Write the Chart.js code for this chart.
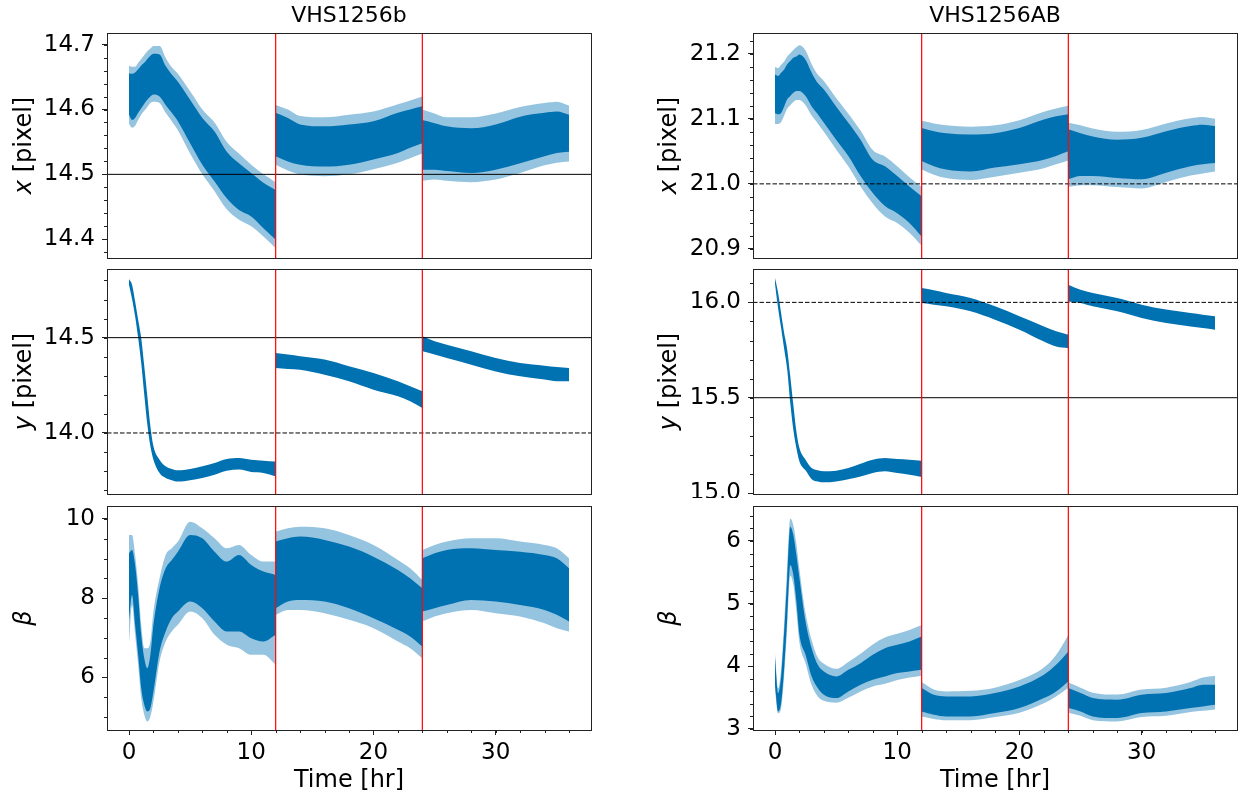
<!DOCTYPE html>
<html>
<head>
<meta charset="utf-8">
<script src="https://cdn.jsdelivr.net/npm/chart.js@4.4.9/dist/chart.umd.min.js"></script>
<style>
  body { margin: 0; background: #fff; }
  #wrap { position: relative; width: 1242px; height: 800px; overflow: hidden; }
  canvas { position: absolute; }
</style>
</head>
<body>
<div id="wrap">
  <canvas id="bx" width="600" height="262" style="left:0;top:0"></canvas>
  <canvas id="by" width="600" height="236" style="left:0;top:262px"></canvas>
  <canvas id="bb" width="600" height="302" style="left:0;top:498px"></canvas>
  <canvas id="ax" width="622" height="262" style="left:620px;top:0"></canvas>
  <canvas id="ay" width="622" height="236" style="left:620px;top:262px"></canvas>
  <canvas id="ab" width="622" height="302" style="left:620px;top:498px"></canvas>
</div>
<script>
// time grids of the three 12 hr visits
const seg1T = [0, 0.25, 0.5, 0.75, 1, 1.25, 1.5, 1.75, 2, 2.5, 3, 3.5, 4, 5, 6, 7, 8, 9, 10, 11, 12];
const seg2T = [12, 13, 14, 16, 18, 20, 22, 23, 24];
const seg3T = [24, 25, 26, 28, 30, 32, 34, 35, 36];
const segTimes = [seg1T, seg2T, seg3T];
const visitBreaks = [12, 24];
const timeTicks = [0, 10, 20, 30];

// VHS1256b  x [pixel]
const bxHi = [
  [14.656, 14.655, 14.657, 14.662, 14.668, 14.672, 14.678, 14.683, 14.686, 14.685, 14.667, 14.654, 14.643, 14.615, 14.587, 14.566, 14.535, 14.517, 14.502, 14.487, 14.476],
  [14.595, 14.587, 14.577, 14.574, 14.577, 14.582, 14.595, 14.600, 14.605],
  [14.584, 14.579, 14.574, 14.571, 14.577, 14.589, 14.595, 14.597, 14.592]
];
const bxLo = [
  [14.592, 14.584, 14.587, 14.595, 14.602, 14.609, 14.615, 14.620, 14.623, 14.620, 14.607, 14.595, 14.582, 14.548, 14.515, 14.489, 14.463, 14.445, 14.435, 14.417, 14.399],
  [14.528, 14.520, 14.515, 14.512, 14.515, 14.523, 14.533, 14.541, 14.548],
  [14.507, 14.507, 14.505, 14.502, 14.507, 14.517, 14.528, 14.533, 14.535]
];
const bxOutHi = [
  [14.668, 14.666, 14.666, 14.672, 14.678, 14.684, 14.690, 14.694, 14.698, 14.698, 14.680, 14.665, 14.655, 14.628, 14.600, 14.580, 14.550, 14.532, 14.515, 14.500, 14.488],
  [14.607, 14.600, 14.590, 14.588, 14.592, 14.597, 14.608, 14.614, 14.620],
  [14.600, 14.594, 14.588, 14.588, 14.594, 14.604, 14.610, 14.612, 14.606]
];
const bxOutLo = [
  [14.578, 14.572, 14.575, 14.584, 14.592, 14.598, 14.604, 14.610, 14.612, 14.610, 14.595, 14.582, 14.568, 14.532, 14.500, 14.474, 14.446, 14.430, 14.420, 14.404, 14.386],
  [14.515, 14.506, 14.500, 14.497, 14.500, 14.508, 14.518, 14.525, 14.532],
  [14.490, 14.492, 14.490, 14.488, 14.492, 14.502, 14.514, 14.518, 14.520]
];
const bxTicks = [14.4, 14.5, 14.6, 14.7];

// VHS1256b  y [pixel]
const byHi = [
  [14.808, 14.778, 14.691, 14.594, 14.498, 14.350, 14.192, 14.035, 13.930, 13.860, 13.825, 13.811, 13.804, 13.811, 13.825, 13.843, 13.864, 13.869, 13.860, 13.855, 13.851],
  [14.420, 14.411, 14.402, 14.385, 14.350, 14.315, 14.271, 14.245, 14.219],
  [14.507, 14.481, 14.463, 14.428, 14.393, 14.367, 14.353, 14.346, 14.341]
];
const byLo = [
  [14.778, 14.703, 14.612, 14.498, 14.367, 14.201, 14.044, 13.930, 13.860, 13.790, 13.764, 13.752, 13.745, 13.752, 13.764, 13.781, 13.802, 13.808, 13.795, 13.790, 13.773],
  [14.341, 14.336, 14.332, 14.306, 14.271, 14.227, 14.192, 14.166, 14.131],
  [14.428, 14.411, 14.393, 14.358, 14.323, 14.297, 14.280, 14.271, 14.271]
];
const byTicks = [14.0, 14.5];

// VHS1256b  beta
const bbHi = [
  [9.134, 9.218, 8.840, 8.084, 7.076, 6.487, 6.235, 6.571, 7.328, 8.252, 8.756, 8.966, 9.176, 9.597, 9.513, 9.176, 8.924, 9.092, 8.840, 8.672, 8.588],
  [9.429, 9.513, 9.555, 9.471, 9.303, 9.050, 8.714, 8.504, 8.252],
  [9.008, 9.134, 9.218, 9.261, 9.218, 9.176, 9.092, 9.008, 8.756]
];
const bbLo = [
  [7.412, 8.084, 7.328, 6.571, 5.731, 5.311, 5.143, 5.227, 5.647, 6.655, 7.160, 7.496, 7.664, 7.916, 7.748, 7.412, 7.160, 7.160, 6.992, 6.908, 7.076],
  [7.748, 7.916, 7.958, 7.916, 7.748, 7.496, 7.202, 7.034, 6.782],
  [7.664, 7.748, 7.832, 7.958, 7.916, 7.832, 7.706, 7.580, 7.412]
];
const bbOutHi = [
  [9.597, 9.597, 9.092, 8.336, 7.328, 6.739, 6.739, 6.908, 7.664, 8.504, 9.092, 9.261, 9.429, 9.933, 9.765, 9.513, 9.261, 9.345, 9.092, 8.924, 8.924],
  [9.681, 9.765, 9.807, 9.765, 9.597, 9.345, 8.966, 8.756, 8.462],
  [9.218, 9.345, 9.429, 9.513, 9.513, 9.429, 9.345, 9.261, 9.008]
];
const bbOutLo = [
  [6.824, 7.832, 7.076, 6.319, 5.479, 5.059, 4.891, 5.017, 5.395, 6.403, 6.908, 7.160, 7.328, 7.664, 7.496, 7.076, 6.824, 6.739, 6.571, 6.571, 6.319],
  [7.580, 7.706, 7.706, 7.622, 7.454, 7.244, 6.908, 6.739, 6.487],
  [7.412, 7.538, 7.622, 7.706, 7.622, 7.538, 7.370, 7.244, 7.160]
];
const bbTicks = [6, 8, 10];

// VHS1256AB  x [pixel]
const axHi = [
  [21.168, 21.166, 21.171, 21.176, 21.184, 21.189, 21.194, 21.196, 21.199, 21.191, 21.171, 21.155, 21.145, 21.119, 21.094, 21.068, 21.037, 21.027, 21.012, 20.996, 20.981],
  [21.086, 21.081, 21.078, 21.076, 21.078, 21.086, 21.099, 21.104, 21.107],
  [21.084, 21.078, 21.073, 21.068, 21.071, 21.081, 21.089, 21.091, 21.089]
];
const axLo = [
  [21.109, 21.107, 21.109, 21.119, 21.130, 21.135, 21.140, 21.143, 21.143, 21.135, 21.119, 21.107, 21.094, 21.068, 21.043, 21.012, 20.986, 20.966, 20.955, 20.940, 20.919],
  [21.035, 21.027, 21.022, 21.019, 21.025, 21.030, 21.037, 21.043, 21.050],
  [21.007, 21.012, 21.012, 21.009, 21.007, 21.017, 21.027, 21.030, 21.032]
];
const axOutHi = [
  [21.180, 21.178, 21.183, 21.188, 21.196, 21.201, 21.206, 21.210, 21.213, 21.205, 21.184, 21.168, 21.158, 21.132, 21.108, 21.082, 21.052, 21.042, 21.027, 21.010, 20.995],
  [21.097, 21.093, 21.090, 21.088, 21.090, 21.098, 21.111, 21.116, 21.120],
  [21.094, 21.090, 21.085, 21.080, 21.083, 21.093, 21.101, 21.103, 21.100]
];
const axOutLo = [
  [21.092, 21.092, 21.095, 21.105, 21.116, 21.121, 21.126, 21.129, 21.129, 21.121, 21.105, 21.093, 21.080, 21.053, 21.027, 20.996, 20.970, 20.950, 20.940, 20.925, 20.905],
  [21.022, 21.014, 21.009, 21.006, 21.011, 21.017, 21.024, 21.030, 21.036],
  [20.995, 20.998, 20.998, 20.995, 20.993, 21.003, 21.013, 21.016, 21.019]
];
const axTicks = [20.9, 21.0, 21.1, 21.2];

// VHS1256AB  y [pixel]
const ayHi = [
  [16.128, 16.052, 15.944, 15.839, 15.752, 15.612, 15.463, 15.323, 15.236, 15.175, 15.131, 15.119, 15.114, 15.117, 15.131, 15.154, 15.175, 15.184, 15.178, 15.175, 15.170],
  [16.075, 16.063, 16.049, 16.023, 15.979, 15.927, 15.874, 15.848, 15.830],
  [16.093, 16.066, 16.049, 16.023, 15.988, 15.962, 15.944, 15.935, 15.927]
];
const ayLo = [
  [16.098, 15.970, 15.865, 15.755, 15.647, 15.472, 15.332, 15.236, 15.166, 15.119, 15.073, 15.061, 15.056, 15.061, 15.073, 15.087, 15.105, 15.114, 15.105, 15.096, 15.084],
  [15.997, 15.988, 15.979, 15.953, 15.909, 15.857, 15.795, 15.769, 15.760],
  [16.005, 15.997, 15.979, 15.953, 15.918, 15.892, 15.874, 15.865, 15.857]
];
const ayTicks = [15.0, 15.5, 16.0];

// VHS1256AB  beta
const abHi = [
  [4.131, 3.573, 3.839, 4.555, 5.405, 6.228, 6.096, 5.777, 5.405, 4.715, 4.290, 4.024, 3.918, 3.839, 3.945, 4.051, 4.184, 4.290, 4.343, 4.396, 4.476],
  [3.653, 3.546, 3.520, 3.520, 3.573, 3.679, 3.865, 4.024, 4.237],
  [3.653, 3.573, 3.493, 3.467, 3.546, 3.573, 3.653, 3.706, 3.706]
];
const abLo = [
  [3.706, 3.281, 3.414, 3.971, 4.768, 5.618, 5.458, 5.033, 4.502, 4.184, 3.839, 3.653, 3.546, 3.493, 3.600, 3.706, 3.785, 3.839, 3.892, 3.918, 3.945],
  [3.281, 3.228, 3.201, 3.201, 3.254, 3.334, 3.493, 3.600, 3.759],
  [3.334, 3.281, 3.201, 3.175, 3.254, 3.281, 3.334, 3.360, 3.387]
];
const abOutHi = [
  [4.20, 3.65, 3.95, 4.70, 5.60, 6.36, 6.25, 5.95, 5.55, 4.85, 4.42, 4.14, 4.04, 3.96, 4.07, 4.20, 4.35, 4.46, 4.52, 4.58, 4.66],
  [3.75, 3.63, 3.60, 3.61, 3.66, 3.78, 3.98, 4.18, 4.50],
  [3.74, 3.66, 3.58, 3.55, 3.63, 3.66, 3.75, 3.82, 3.85]
];
const abOutLo = [
  [3.62, 3.25, 3.33, 3.85, 4.62, 5.45, 5.30, 4.88, 4.38, 4.05, 3.70, 3.52, 3.45, 3.42, 3.50, 3.60, 3.68, 3.72, 3.78, 3.82, 3.85],
  [3.20, 3.16, 3.14, 3.14, 3.19, 3.26, 3.41, 3.52, 3.66],
  [3.26, 3.21, 3.14, 3.12, 3.19, 3.21, 3.27, 3.29, 3.31]
];
const abTicks = [3, 4, 5, 6];

const FONT = 'DejaVu Sans';
const BLUE = 'rgb(0,114,178)';
const FRINGE = 'rgba(0,114,178,0.42)';
const TMIN = -1.8, TMAX = 37.8;

Chart.defaults.font.family = FONT;
Chart.defaults.color = '#000';

const bandSets = (hiSegs, loSegs, color) => {
    const out = [];
    segTimes.forEach((t, s) => {
        out.push({
            data: t.map((x, i) => ({ x, y: hiSegs[s][i] })),
            borderColor: 'rgba(0,0,0,0)', borderWidth: 1, pointRadius: 0,
            cubicInterpolationMode: 'monotone', fill: false
        });
        out.push({
            data: t.map((x, i) => ({ x, y: loSegs[s][i] })),
            borderColor: 'rgba(0,0,0,0)', borderWidth: 1, pointRadius: 0,
            cubicInterpolationMode: 'monotone', fill: '-1', backgroundColor: color
        });
    });
    return out;
};

const refLine = (y, dashed) => ({
    data: [{ x: TMIN, y }, { x: TMAX, y }],
    borderColor: '#000', borderWidth: 1, borderDash: dashed ? [4.5, 2] : [],
    pointRadius: 0, fill: false
});

const visitLine = (t, yMin, yMax) => ({
    data: [{ x: t, y: yMin }, { x: t, y: yMax }],
    borderColor: '#ff0000', borderWidth: 1.2, pointRadius: 0, fill: false
});

// frame, minor ticks and the half-italic y label
const decor = {
    id: 'decor',
    afterDraw(chart, args, o) {
        const { ctx, chartArea: a, scales } = chart;
        ctx.save();
        ctx.strokeStyle = '#222';
        ctx.lineWidth = 1;
        const ys = scales.y;
        for (let k = Math.ceil(ys.min / o.yMinor - 1e-6); k * o.yMinor <= ys.max + 1e-9; k++) {
            const py = Math.round(ys.getPixelForValue(k * o.yMinor)) + 0.5;
            ctx.beginPath(); ctx.moveTo(a.left, py); ctx.lineTo(a.left - 3, py); ctx.stroke();
        }
        if (o.xMinor) {
            const xs = scales.x;
            for (let k = Math.ceil(xs.min / o.xMinor); k * o.xMinor <= xs.max; k++) {
                const px = Math.round(xs.getPixelForValue(k * o.xMinor)) + 0.5;
                ctx.beginPath(); ctx.moveTo(px, a.bottom); ctx.lineTo(px, a.bottom + 3); ctx.stroke();
            }
        }
        ctx.strokeRect(Math.round(a.left) + 0.5, Math.round(a.top) + 0.5,
            Math.round(a.right - a.left), Math.round(a.bottom - a.top));

        ctx.translate(o.labelX, (a.top + a.bottom) / 2);
        ctx.rotate(-Math.PI / 2);
        ctx.fillStyle = '#000';
        ctx.textBaseline = 'middle';
        ctx.textAlign = 'left';
        const f1 = 'italic 24px ' + FONT, f2 = '24px ' + FONT;
        ctx.font = f1; const w1 = ctx.measureText(o.italic).width;
        ctx.font = f2; const w2 = ctx.measureText(o.rest).width;
        const x0 = -(w1 + w2) / 2;
        ctx.font = f1; ctx.fillText(o.italic, x0, 0);
        ctx.font = f2; ctx.fillText(o.rest, x0 + w1, 0);
        ctx.restore();
    }
};

const noEdgePadding = (s) => {
    s.paddingTop = 0; s.paddingBottom = 0; s.paddingLeft = 0; s.paddingRight = 0;
};

const makePanel = (p) => {
    const datasets = [
        ...visitBreaks.map(t => visitLine(t, p.yMin, p.yMax)),
        ...p.refs.map(r => refLine(r[0], r[1])),
        ...bandSets(p.hi, p.lo, BLUE),
        ...(p.outHi ? bandSets(p.outHi, p.outLo, FRINGE) : [])
    ];
    return new Chart(document.getElementById(p.id), {
        type: 'line',
        data: { datasets },
        options: {
            responsive: false,
            maintainAspectRatio: false,
            animation: false,
            events: [],
            layout: { padding: p.pad },
            plugins: {
                legend: { display: false },
                tooltip: { enabled: false },
                title: p.title ? {
                    display: true, text: p.title, fullSize: false,
                    font: { size: 22, weight: 'normal' }, color: '#000',
                    padding: { top: 3, bottom: 3.6 }
                } : { display: false },
                decor: { yMinor: p.yMinor, xMinor: p.bottom ? 2 : 0, labelX: p.labelX, italic: p.italic, rest: p.rest }
            },
            scales: {
                x: {
                    type: 'linear', min: TMIN, max: TMAX,
                    display: !!p.bottom,
                    afterFit: (s) => { s.height = p.bottom ? 70 : 0; noEdgePadding(s); },
                    afterBuildTicks: (s) => { s.ticks = timeTicks.map(v => ({ value: v })); },
                    border: { display: false },
                    grid: { drawOnChartArea: false, drawTicks: true, tickLength: 5, tickColor: '#222' },
                    ticks: { font: { size: 23 }, padding: 4, maxRotation: 0, callback: v => String(v) },
                    title: { display: true, text: 'Time [hr]', font: { size: 24 }, padding: { top: 0, bottom: 5 } }
                },
                y: {
                    type: 'linear', min: p.yMin, max: p.yMax,
                    afterFit: (s) => { s.width = p.yw; noEdgePadding(s); },
                    afterBuildTicks: (s) => { s.ticks = p.ticks.map(v => ({ value: v })); },
                    border: { display: false },
                    grid: { drawOnChartArea: false, drawTicks: true, tickLength: 5, tickColor: '#222' },
                    ticks: { font: { size: 23 }, padding: 7, callback: v => v.toFixed(p.dec) }
                }
            }
        },
        plugins: [decor]
    });
};

const leftPad = { top: { top: 0, right: 9, bottom: 4, left: 0 }, mid: { top: 7, right: 9, bottom: 4, left: 0 }, bot: { top: 8, right: 9, bottom: 0, left: 0 } };
const rightPad = { top: { top: 0, right: 5, bottom: 4, left: 0 }, mid: { top: 7, right: 5, bottom: 4, left: 0 }, bot: { top: 8, right: 5, bottom: 0, left: 0 } };

makePanel({ id: 'bx', title: 'VHS1256b', pad: leftPad.top, yw: 107, labelX: 25, italic: 'x', rest: ' [pixel]',
    yMin: 14.371, yMax: 14.718, ticks: bxTicks, dec: 1, yMinor: 0.02, refs: [[14.5, false]],
    hi: bxHi, lo: bxLo, outHi: bxOutHi, outLo: bxOutLo });
makePanel({ id: 'by', pad: leftPad.mid, yw: 107, labelX: 25, italic: 'y', rest: ' [pixel]',
    yMin: 13.680, yMax: 14.860, ticks: byTicks, dec: 1, yMinor: 0.1, refs: [[14.5, false], [14.0, true]],
    hi: byHi, lo: byLo });
makePanel({ id: 'bb', bottom: true, pad: leftPad.bot, yw: 107, labelX: 25, italic: 'β', rest: '',
    yMin: 4.674, yMax: 10.328, ticks: bbTicks, dec: 0, yMinor: 0.5, refs: [],
    hi: bbHi, lo: bbLo, outHi: bbOutHi, outLo: bbOutLo });
makePanel({ id: 'ax', title: 'VHS1256AB', pad: rightPad.top, yw: 133, labelX: 50, italic: 'x', rest: ' [pixel]',
    yMin: 20.886, yMax: 21.232, ticks: axTicks, dec: 1, yMinor: 0.02, refs: [[21.0, true]],
    hi: axHi, lo: axLo, outHi: axOutHi, outLo: axOutLo });
makePanel({ id: 'ay', pad: rightPad.mid, yw: 133, labelX: 50, italic: 'y', rest: ' [pixel]',
    yMin: 14.995, yMax: 16.175, ticks: ayTicks, dec: 1, yMinor: 0.1, refs: [[16.0, true], [15.5, false]],
    hi: ayHi, lo: ayLo });
makePanel({ id: 'ab', bottom: true, pad: rightPad.bot, yw: 133, labelX: 50, italic: 'β', rest: '',
    yMin: 2.984, yMax: 6.558, ticks: abTicks, dec: 0, yMinor: 0.2, refs: [],
    hi: abHi, lo: abLo, outHi: abOutHi, outLo: abOutLo });
</script>
</body>
</html>
